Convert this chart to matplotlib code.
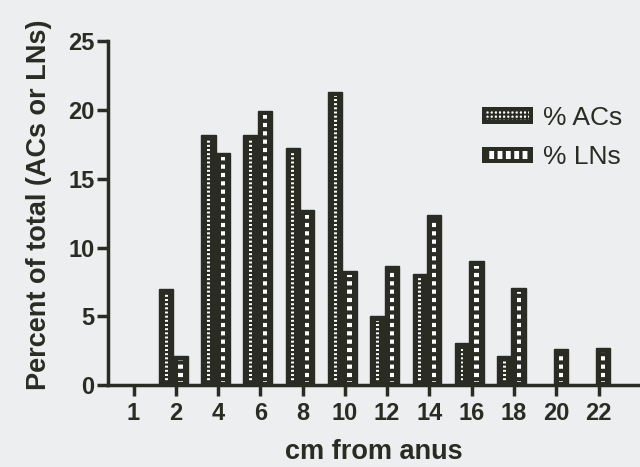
import numpy as np
import matplotlib
matplotlib.use("Agg")
import matplotlib.pyplot as plt
from matplotlib.patches import Patch, Rectangle
from matplotlib.legend_handler import HandlerBase

# data
cm_labels = ["1", "2", "4", "6", "8", "10", "12", "14", "16", "18", "20", "22"]
pct_acs = [0, 7.0, 18.2, 18.2, 17.2, 21.3, 5.0, 8.1, 3.1, 2.1, 0, 0]
pct_lns = [0, 2.1, 16.9, 19.9, 12.7, 8.3, 8.7, 12.4, 9.0, 7.1, 2.6, 2.7]

dark = "#2a2c24"
bg = "#eceef0"

plt.rcParams['font.family'] = ['Liberation Sans', 'DejaVu Sans']

fig = plt.figure(figsize=(6.4, 4.67), dpi=100, facecolor=bg)
ax = fig.add_axes([0.169, 0.175, 0.831, 0.737], facecolor=bg)

x = np.arange(len(cm_labels))
w = 0.34
shift = -0.06
acs = np.array(pct_acs)
lns = np.array(pct_lns)


def draw_series(vals, offset, strip_w, hatch, hlw):
    mask = vals > 0
    xs = x[mask] + offset
    v = vals[mask]
    ax.bar(xs, v, w, color=dark, edgecolor=dark, linewidth=1, zorder=2)
    # white strip with dark cross lines gives the dotted look
    with plt.rc_context({'hatch.linewidth': hlw}):
        ax.bar(xs, v - 0.55, strip_w, bottom=0.25, color="white",
               edgecolor=dark, linewidth=0, hatch=hatch, zorder=3)


draw_series(acs, shift - w / 2, 0.07, "----", 1.6)
draw_series(lns, shift + w / 2, 0.10, "--", 3.0)

ax.set_xlim(-0.6, 11.98)
ax.set_ylim(0, 25)
ax.set_yticks([0, 5, 10, 15, 20, 25])
ax.set_xticks(x)
ax.set_xticklabels(cm_labels)

for s in ["top", "right"]:
    ax.spines[s].set_visible(False)
for s in ["left", "bottom"]:
    ax.spines[s].set_linewidth(2.5)
    ax.spines[s].set_color(dark)
    ax.spines[s].set_zorder(4)

ax.tick_params(axis="both", direction="out", length=8, width=2.5, color=dark,
               labelsize=17, labelcolor=dark, pad=2)
ax.tick_params(axis="x", pad=4)
for lab in ax.get_xticklabels() + ax.get_yticklabels():
    lab.set_fontweight("bold")

ax.set_ylabel("Percent of total (ACs or LNs)", fontsize=19.5, fontweight="bold",
              color=dark)
ax.yaxis.set_label_coords(-0.105, 0.525)
ax.set_xlabel("cm from anus", fontsize=19.5, fontweight="bold", color=dark,
              labelpad=10)


class BoxHandler(HandlerBase):
    def __init__(self, hatch, hlw, inset_x, inset_y):
        super().__init__()
        self.hatch = hatch
        self.hlw = hlw
        self.ix = inset_x
        self.iy = inset_y

    def create_artists(self, legend, orig_handle, xdescent, ydescent,
                       width, height, fontsize, trans):
        outer = Rectangle((-xdescent, -ydescent), width, height,
                          facecolor=dark, edgecolor=dark, lw=0,
                          transform=trans)
        with plt.rc_context({'hatch.linewidth': self.hlw}):
            inner = Rectangle((-xdescent + self.ix, -ydescent + self.iy),
                              width - 2 * self.ix, height - 2 * self.iy,
                              facecolor="white", edgecolor=dark, lw=0,
                              hatch=self.hatch, transform=trans)
        return [outer, inner]


h1 = Patch(label="% ACs")
h2 = Patch(label="% LNs")
leg = ax.legend([h1, h2], ["% ACs", "% LNs"], loc="upper left",
                bbox_to_anchor=(482 / 640, 1 - 106 / 467),
                bbox_transform=fig.transFigure, frameon=False, fontsize=19,
                handlelength=1.95, handleheight=0.6, handletextpad=0.35,
                labelspacing=0.58, borderpad=0, borderaxespad=0,
                handler_map={h1: BoxHandler("++++", 1.4, 3, 3),
                             h2: BoxHandler("||", 2.5, 3, 3)})
for t in leg.get_texts():
    t.set_color(dark)

fig.savefig("out.png", dpi=100, facecolor=bg)
